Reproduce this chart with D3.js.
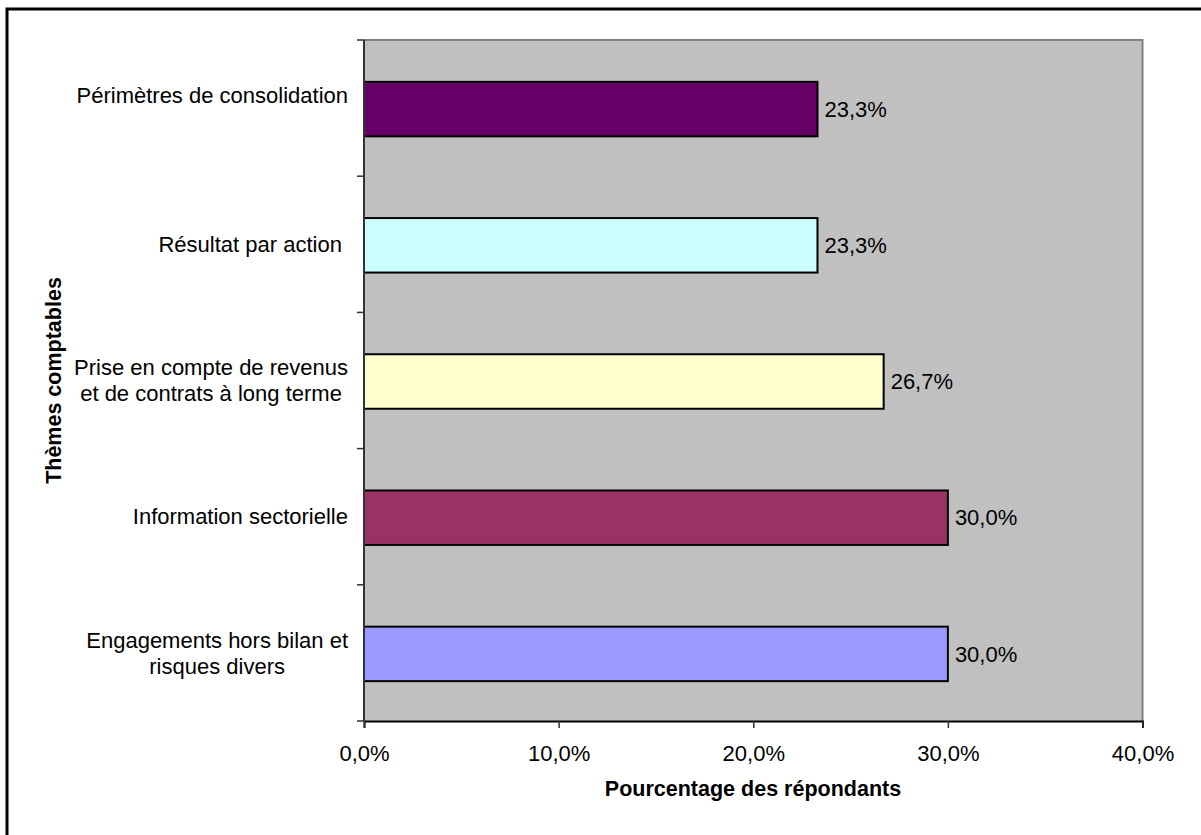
<!DOCTYPE html>
<html>
<head>
<meta charset="utf-8">
<script src="https://cdn.jsdelivr.net/npm/d3@7"></script>
<style>
  body { margin: 0; background: #fff; }
  text { font-family: "Liberation Sans", Arial, sans-serif; fill: #000; }
</style>
</head>
<body>
<svg id="chart" width="1201" height="835"></svg>
<script>
// données du graphique (de haut en bas)
const categories = [
    ["Périmètres de consolidation"],
    ["Résultat par action "],
    ["Prise en compte de revenus", "et de contrats à long terme"],
    ["Information sectorielle"],
    ["Engagements hors bilan et", "risques divers"]
]
const values = [23.3, 23.3, 26.7, 30.0, 30.0]
const colors = ["#660066", "#CCFFFF", "#FFFFCC", "#993366", "#9999FF"]
const xTicks = [0, 10, 20, 30, 40]

const svg = d3.select('#chart')
const fs = "22px"

// cadre extérieur
svg.append("rect")
    .attr("x", 7).attr("y", 9)
    .attr("width", 1400).attr("height", 1000)
    .attr("fill", "none")
    .attr("stroke", "#000")
    .attr("stroke-width", 3)

const plot = { left: 364, right: 1142.5, top: 40, bottom: 721 }

const xScale = d3.scaleLinear()
    .domain([0, 40])
    .range([plot.left, plot.right])

const yScale = d3.scaleBand()
    .domain(d3.range(categories.length))
    .range([plot.top, plot.bottom])
    .padding(0)

const fmt = v => d3.format(".1f")(v).replace(".", ",") + "%"

// fond gris
svg.append("rect")
    .attr("x", plot.left).attr("y", plot.top)
    .attr("width", plot.right - plot.left)
    .attr("height", plot.bottom - plot.top)
    .attr("fill", "#C0C0C0")
svg.append("path")
    .attr("d", `M${plot.left},${plot.top}H${plot.right}V${plot.bottom}`)
    .attr("fill", "none")
    .attr("stroke", "#808080")
    .attr("stroke-width", 2)

// barres
const barH = yScale.bandwidth() * 0.4
svg.append("g")
    .selectAll(".bar_rect")
    .data(values)
    .enter().append("rect")
    .attr("class", "bar_rect")
    .attr("x", xScale(0))
    .attr("y", (d, i) => yScale(i) + (yScale.bandwidth() - barH) / 2 + 1)
    .attr("width", d => xScale(d) - xScale(0))
    .attr("height", barH)
    .attr("fill", (d, i) => colors[i])
    .attr("stroke", "#000")
    .attr("stroke-width", 2)

// étiquettes de valeurs
svg.append("g")
    .selectAll("text")
    .data(values)
    .enter().append("text")
    .attr("x", d => xScale(d) + 7)
    .attr("y", (d, i) => yScale(i) + yScale.bandwidth() / 2 + 1)
    .attr("dy", "0.35em")
    .style("font-size", fs)
    .text(d => fmt(d))

// axe X
const xAxis = d3.axisBottom(xScale)
    .tickValues(xTicks)
    .tickSize(7)
    .tickPadding(17)
    .tickFormat(d => fmt(d))
const gx = svg.append("g")
    .attr("transform", `translate(0,${plot.bottom})`)
    .call(xAxis)
gx.select(".domain").attr("stroke", "#000").attr("stroke-width", 2)
gx.selectAll(".tick line").attr("stroke", "#333").attr("stroke-width", 1.5)
gx.selectAll("text")
    .style("font-size", fs)
    .style("font-family", "'Liberation Sans', Arial, sans-serif")
    .attr("fill", "#000")

// axe Y : ligne et graduations aux limites des catégories
const yEdges = d3.range(categories.length + 1).map(i => i < categories.length ? yScale(i) : plot.bottom)
svg.append("line")
    .attr("x1", plot.left).attr("x2", plot.left)
    .attr("y1", plot.top).attr("y2", plot.bottom)
    .attr("stroke", "#333").attr("stroke-width", 2)
svg.append("g")
    .selectAll("line")
    .data(yEdges)
    .enter().append("line")
    .attr("x1", plot.left - 7).attr("x2", plot.left)
    .attr("y1", d => d).attr("y2", d => d)
    .attr("stroke", "#333").attr("stroke-width", 1.5)

// libellés des catégories (bloc aligné à droite, lignes centrées)
const lineH = 26
const labelG = svg.append("g")
categories.forEach((lines, i) => {
    let cy = yScale(i) + yScale.bandwidth() / 2
    if (i === 0) cy -= 13   // Excel remonte le premier libellé
    const t = labelG.append("text")
        .style("font-size", fs)
        .style("white-space", "pre")
        .attr("text-anchor", "middle")
    const spans = lines.map((ln, k) => t.append("tspan")
        .attr("x", 0)
        .attr("y", cy + (k - (lines.length - 1) / 2) * lineH)
        .attr("dy", "0.35em")
        .text(ln))
    // aligner le bloc à droite sur x = 348
    const w = d3.max(spans, s => s.node().getComputedTextLength())
    spans.forEach(s => s.attr("x", 348 - w / 2))
})

// titres des axes
svg.append("text")
    .attr("x", 753).attr("y", 796)
    .attr("text-anchor", "middle")
    .style("font-size", "21.5px")
    .style("font-weight", "bold")
    .text("Pourcentage des répondants")

svg.append("text")
    .attr("transform", `translate(61,${(plot.top + plot.bottom) / 2}) rotate(-90)`)
    .attr("text-anchor", "middle")
    .style("font-size", "21.5px")
    .style("font-weight", "bold")
    .text("Thèmes comptables")
</script>
</body>
</html>
